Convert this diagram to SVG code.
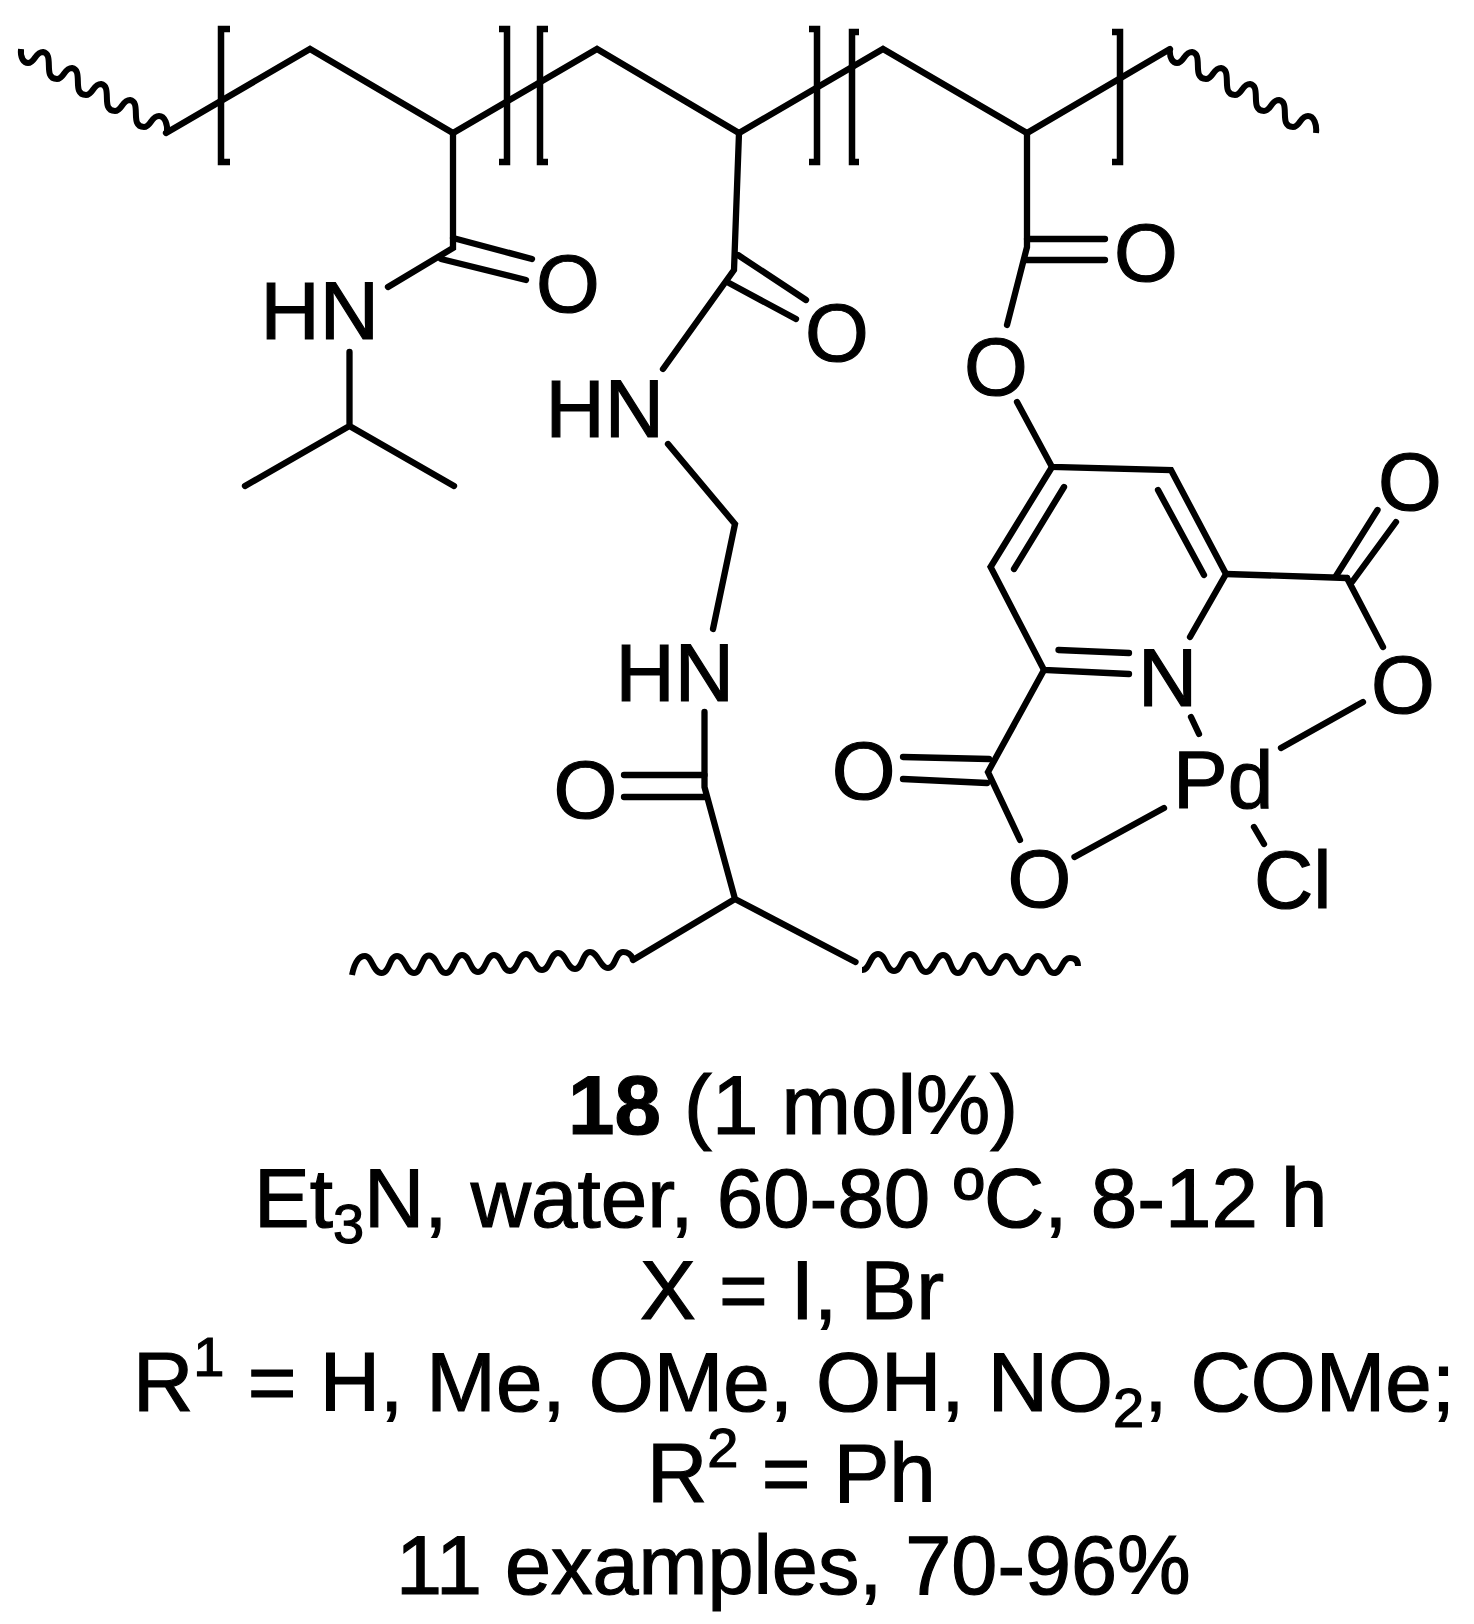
<svg xmlns="http://www.w3.org/2000/svg" width="1474" height="1624" viewBox="0 0 1474 1624">
<style>
text{font-family:"Liberation Sans",Arial,sans-serif;font-size:82px;fill:#000;stroke:#000;stroke-width:1.2}
#conditions text{font-size:83.5px}
#conditions text.l6{font-size:82.8px}
.o{text-anchor:middle}
.b{font-weight:bold}
#conditions .s{font-size:56px}
#connectors path{fill:none;stroke:#000;stroke-width:6.3;stroke-linecap:round;stroke-linejoin:miter}
#connectors .br{stroke-linecap:butt;stroke-width:6.5}
#connectors .w{stroke-width:6;stroke-linecap:butt}
</style>
<defs>
<path id="wave" d="M0,0 c-1,9 3,14 7,14 c7,0 7,-11 15,-11 c12,2 -1,27 14,27 c7,0 7,-11 15,-11 c12,2 -1,27 14,27 c7,0 7,-11 15,-11 c12,2 -1,27 14,27 c7,0 7,-11 15,-11 c12,2 -1,27 14,27 c7,0 7,-11 15,-11 c6,0 9,9 8,17"/>
</defs>
<rect width="1474" height="1624" fill="#fff"/>
<g id="connectors">
<use href="#wave" x="21" y="49" fill="none" stroke="#000" stroke-width="6"/>
<use href="#wave" x="1170" y="49" fill="none" stroke="#000" stroke-width="6"/>
<path class="w" d="M352,975 C354,965 358,956 365,956 S373,973 381.5,973 S389,956 397,956 S406,973 414,973 S421,955.5 429,955.5 S438,973 446,973 S454,955 462,955 S470,972 478,972 S486,955 494,955 S502,971 510,971 S518,954 526,954 S534,970 542,970 S550,953 558,953 S567,969 575,969 S582,952 590,952 S600,968 608,968 S615,952 623,952 Q630,952 633,959"/>
<path class="w" d="M862,970 C870,970 870,954 878,954 S886,971 894,971 S902,954 910,954 S918,972 926,972 S935,955 943,955 S950,973 958,973 S966,955 974,955 S982,973 990,973 S998,956 1006,956 S1014,973 1022,973 S1030,956 1038,956 S1046,973 1054,973 S1062,958 1070,958 Q1078,958 1078,966"/>
<path d="M166,133 L310,49 L453,133 L597,49 L739,133 L883,49 L1027,133 L1170,49"/>
<path class="br" d="M230,29 H221 V162 H230"/>
<path class="br" d="M499,29 H507 V162 H499"/>
<path class="br" d="M548,29 H540 V162 H548"/>
<path class="br" d="M809,29 H817 V162 H809"/>
<path class="br" d="M859,32 H852 V162 H859"/>
<path class="br" d="M1112,32 H1120 V162 H1112"/>
<path d="M453,133 V248 L388,287"/>
<path d="M453,238 L532,259 M441,259 L526,280"/>
<path d="M349.5,352 V426 L245,486 M349.5,426 L454,486"/>
<path d="M739,133 L734,270 L663,369"/>
<path d="M738,255 L806,300 M729,283 L796,319"/>
<path d="M668,444 L735,524 L713,629"/>
<path d="M704.5,712 V787 L735,899 L633,960 M735,899 L855.5,962"/>
<path d="M624,775 H704.5 M624,797 H706"/>
<path d="M1027,133 V247 L1007,325"/>
<path d="M1027,239 H1105 M1026,260 H1105"/>
<path d="M1017,402 L1052,467 L1171,470 L1226,574 L1190,637"/>
<path d="M1052,467 L990.6,567 L1044,670 L1129,674"/>
<path d="M1064,487 L1014,569 M1158,490 L1204,575 M1058.5,650 L1129,653"/>
<path d="M1226,574 L1347,578"/>
<path d="M1336,576 L1377.5,510 M1352,582 L1396,522"/>
<path d="M1347,578 L1383,647"/>
<path d="M1363,702 L1281,748 M1191,717 L1199,734 M1254,827 L1264,844"/>
<path d="M1044,670 L988,772 L1020,840"/>
<path d="M903,757 L989,759 M903,779 L987,783"/>
<path d="M1074.5,857 L1164,808"/>
</g>
<g id="atom-hn-1"><text x="260.5" y="339">HN</text></g>
<g id="atom-o-1"><text class="o" x="568" y="312">O</text></g>
<g id="atom-hn-2"><text x="545.5" y="437">HN</text></g>
<g id="atom-o-2"><text class="o" x="837" y="361">O</text></g>
<g id="atom-hn-3"><text x="615.5" y="701">HN</text></g>
<g id="atom-o-3"><text class="o" x="585.5" y="818">O</text></g>
<g id="atom-o-4"><text class="o" x="1146" y="281">O</text></g>
<g id="atom-o-5"><text class="o" x="996" y="395">O</text></g>
<g id="atom-o-6"><text class="o" x="1410" y="510">O</text></g>
<g id="atom-o-7"><text class="o" x="1403" y="713">O</text></g>
<g id="atom-o-8"><text class="o" x="863.6" y="799">O</text></g>
<g id="atom-o-9"><text class="o" x="1039.5" y="907">O</text></g>
<g id="atom-n"><text x="1138" y="706">N</text></g>
<g id="atom-pd"><text x="1173" y="808">Pd</text></g>
<g id="atom-cl"><text x="1254" y="908">Cl</text></g>
<g id="conditions">
<text x="568" y="1134"><tspan class="b">18</tspan> (1 mol%)</text>
<text x="254" y="1227">Et<tspan class="s" dy="16">3</tspan><tspan dy="-16">N, water, 60-80 ºC, 8-12 h</tspan></text>
<text x="640" y="1319">X = I, Br</text>
<text x="133" y="1411">R<tspan class="s" dy="-35">1</tspan><tspan dy="35"> = H, Me, OMe, OH, NO</tspan><tspan class="s" dy="16">2</tspan><tspan dy="-16">, COMe;</tspan></text>
<text x="647" y="1502">R<tspan class="s" dy="-35">2</tspan><tspan dy="35"> = Ph</tspan></text>
<text class="l6" x="396" y="1594">11 examples, 70-96%</text>
</g>
</svg>
